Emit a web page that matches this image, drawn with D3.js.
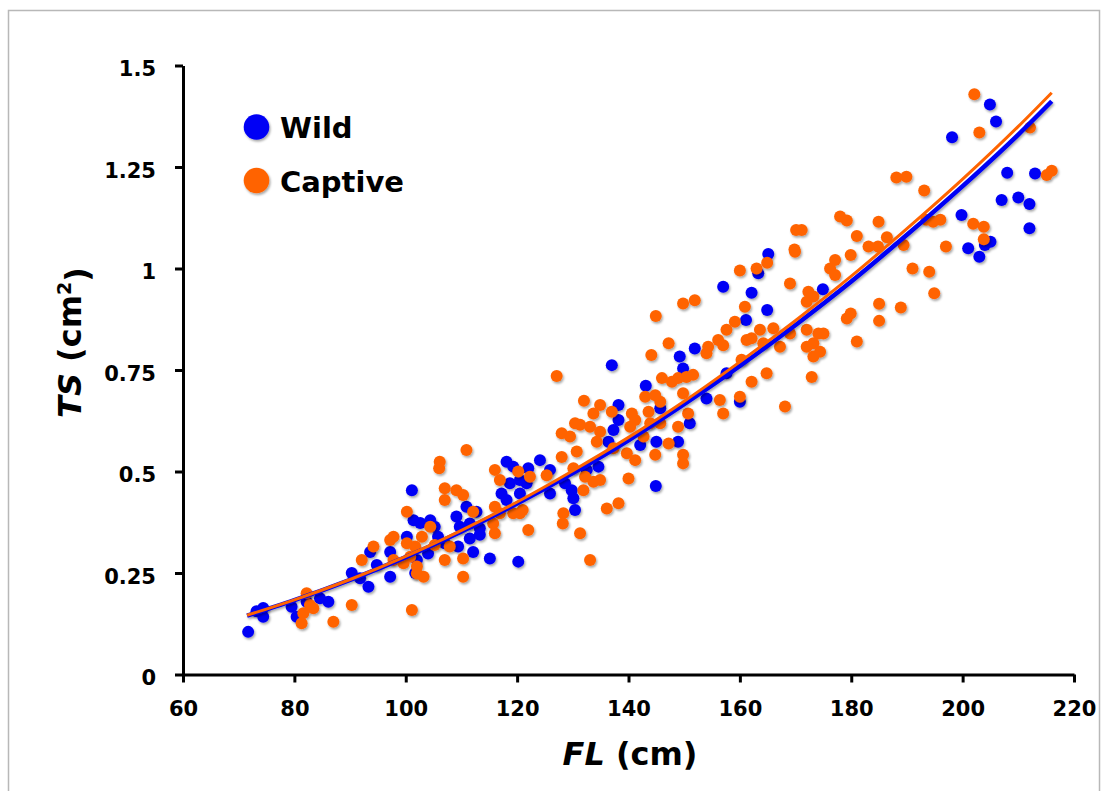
<!DOCTYPE html>
<html>
<head>
<meta charset="utf-8">
<script src="https://cdn.jsdelivr.net/npm/d3@7"></script>
<style>
  html, body { margin: 0; padding: 0; background: #fff; }
  svg { display: block; }
  text { font-family: "DejaVu Sans", sans-serif; font-weight: bold; }
</style>
</head>
<body>
<script>
// ---------- DATA ----------
const xTicks = [60, 80, 100, 120, 140, 160, 180, 200, 220];
const yTicks = [0, 0.25, 0.5, 0.75, 1, 1.25, 1.5];
const yTickLabels = ["0", "0.25", "0.5", "0.75", "1", "1.25", "1.5"];
const seriesNames = ["Wild", "Captive"];
const seriesColors = ["#0000f5", "#ff6400"];

// [FL (cm), TS (cm^2)]
const wildPoints = [
  [71.7,0.105],[73.2,0.156],[74.4,0.142],[74.4,0.164],[79.5,0.167],[80.4,0.142],[82.2,0.179],[84.6,0.188],
  [86.1,0.179],[90.3,0.25],[91.8,0.237],[93.3,0.216],[93.6,0.302],[94.8,0.27],[97.2,0.241],[97.2,0.302],
  [100.2,0.339],[101.1,0.454],[101.4,0.38],[102.6,0.373],[101.7,0.25],
  [138.2,0.664],[138.2,0.627],[137.3,0.602],[136.4,0.573],[134.6,0.512],[132.5,0.504],[128.6,0.471],
  [129.8,0.454],[130.1,0.434],[130.4,0.405],[118.1,0.524],[119.3,0.512],[122,0.508],[124.1,0.528],
  [125.9,0.504],[120.5,0.479],[121.7,0.471],[118.7,0.471],[117.2,0.446],[118.1,0.43],[120.5,0.446],
  [125.9,0.446],[109.1,0.389],[110.9,0.413],[112.7,0.401],[109.7,0.364],[111.5,0.372],[113.3,0.36],
  [111.5,0.335],[113.3,0.344],[109.4,0.315],[112.1,0.302],[104.4,0.38],[105.2,0.364],[105.8,0.339],
  [107,0.323],[102,0.282],[104,0.298],[115.1,0.286],[120.2,0.278],
  [165.1,1.036],[163.3,0.988],[157,0.955],[162.1,0.94],[164.9,0.898],[161.1,0.873],[151.9,0.803],
  [149.2,0.783],[137,0.762],[149.8,0.754],[157.6,0.742],[143.1,0.711],[154,0.68],[160,0.672],
  [145.7,0.656],[151,0.619],[145,0.573],[148.9,0.573],[142.1,0.565],[144.9,0.464],
  [208,1.236],[213,1.234],[207,1.169],[210,1.175],[212,1.159],[212,1.099],[199.8,1.132],[205,1.066],
  [204,1.058],[201,1.05],[203,1.029],[174.9,0.949],
  [204.9,1.404],[206,1.362],[198.1,1.323]
];

const captivePoints = [
  [82.2,0.2],[82.8,0.171],[81.6,0.151],[81.3,0.126],[83.4,0.163],[87,0.13],[90.3,0.171],[92.1,0.282],
  [94.2,0.315],[97.2,0.331],[97.8,0.339],[100.2,0.401],[100.2,0.323],[100.8,0.29],[101.1,0.159],
  [102,0.266],[99.6,0.274],[101.7,0.315],
  [127.1,0.735],[132,0.674],[134.9,0.664],[133.7,0.643],[137,0.647],[140.6,0.643],[130.4,0.619],
  [131.3,0.615],[133.1,0.61],[128,0.594],[129.5,0.586],[134.9,0.598],[134.3,0.573],[137.3,0.557],
  [139.7,0.545],[141.2,0.528],[130.7,0.549],[128,0.536],[110.9,0.553],[106.1,0.524],[106,0.508],
  [116,0.504],[116.9,0.479],[120.2,0.5],[122.3,0.487],[125.3,0.491],[130.1,0.508],[132.2,0.487],
  [133.7,0.475],[134.9,0.479],[131.9,0.454],[140,0.483],[136.1,0.409],[138.2,0.422],[128.3,0.397],
  [128.2,0.372],[131.3,0.348],[133.1,0.282],[107,0.459],[109.1,0.454],[110.3,0.442],[107,0.43],
  [112.1,0.401],[116,0.413],[116.9,0.397],[119.3,0.397],[120.5,0.397],[121,0.405],[115.7,0.372],
  [116,0.348],[122,0.356],[104.4,0.364],[102.9,0.339],[105.2,0.319],[107.9,0.315],[110.3,0.286],
  [107,0.282],[97.8,0.282],[102,0.249],[103.2,0.241],[110.3,0.241],
  [169.9,1.041],[160,0.995],[163,1.0],[164.9,1.014],[169,0.963],[172.3,0.943],[172,0.918],[173.2,0.931],
  [149.8,0.914],[151.9,0.922],[160.9,0.906],[144.9,0.883],[159.1,0.869],[157.6,0.849],[161.2,0.824],
  [163.6,0.849],[166,0.853],[169,0.84],[172,0.849],[173.2,0.816],[172,0.807],[167.2,0.807],[164.2,0.816],
  [162.1,0.828],[156.1,0.824],[154.3,0.807],[154,0.791],[157,0.811],[147.2,0.816],[144.1,0.787],
  [160.3,0.775],[173.2,0.783],[172.9,0.733],[164.8,0.742],[162.1,0.721],[168.1,0.66],[151.6,0.738],
  [150.4,0.733],[148.9,0.73],[147.8,0.721],[146,0.73],[149.8,0.693],[143,0.684],[144.8,0.688],
  [145.7,0.672],[156.4,0.676],[160,0.684],[157,0.643],[143.6,0.647],[141.2,0.627],[143.9,0.619],
  [145.7,0.619],[140.3,0.61],[142.7,0.586],[150.7,0.643],[148.9,0.61],[147.2,0.569],[144.8,0.541],
  [149.8,0.541],[149.8,0.52],
  [216,1.241],[215.1,1.23],[188.1,1.224],[189.9,1.226],[193.1,1.192],[201.9,1.11],[203.8,1.103],
  [203.8,1.072],[197,1.054],[178,1.128],[179.2,1.118],[184.9,1.115],[170.1,1.095],[171.1,1.095],
  [181,1.08],[186.4,1.077],[183.1,1.054],[184.8,1.054],[189.4,1.058],[193.5,1.12],[194.7,1.115],
  [196,1.12],[169.8,1.047],[179.9,1.033],[177.1,1.021],[176.2,1.0],[177.1,0.984],[191,1.0],[194,0.992],
  [194.9,0.939],[185,0.913],[188.9,0.904],[185,0.871],[179.9,0.889],[179.2,0.877],[174.1,0.84],
  [175,0.84],[181,0.82],[174.4,0.795],
  [202.1,1.429],[203,1.335],[212.1,1.347]
];

// fitted curves
const fitFL = [71.5, 80, 90, 100, 110, 120, 130, 140, 150, 160, 170, 180, 190, 200, 210, 216];
const wildFitTS = [0.145, 0.183, 0.233, 0.289, 0.352, 0.421, 0.496, 0.577, 0.666, 0.760, 0.861, 0.968, 1.083, 1.203, 1.330, 1.412];
const captiveFitTS = [0.146, 0.184, 0.234, 0.291, 0.355, 0.425, 0.502, 0.584, 0.673, 0.770, 0.872, 0.981, 1.098, 1.220, 1.350, 1.433];

// ---------- DRAW ----------
const W = 1107, H = 791;
const svg = d3.select("body").append("svg").attr("width", W).attr("height", H);

const defs = svg.append("defs");
const f = defs.append("filter").attr("id", "shadow").attr("x", "-50%").attr("y", "-50%").attr("width", "200%").attr("height", "200%");
f.append("feDropShadow").attr("dx", 1.2).attr("dy", 1.8).attr("stdDeviation", 1.1)
  .attr("flood-color", "#000").attr("flood-opacity", 0.35);

svg.append("rect").attr("width", W).attr("height", H).attr("fill", "#fff");
svg.append("rect").attr("x", 8.5).attr("y", 10.5).attr("width", 1091).attr("height", 800)
  .attr("fill", "none").attr("stroke", "#b8b8b8").attr("stroke-width", 1.5);

const x = d3.scaleLinear().domain([60, 220]).range([183, 1074]);
const y = d3.scaleLinear().domain([0, 1.5]).range([674.5, 65.5]);

// axes
const xAxis = svg.append("g").attr("transform", `translate(0,${y(0)})`)
  .call(d3.axisBottom(x).tickValues(xTicks).tickFormat(d3.format("d")).tickSize(8).tickSizeOuter(0).tickPadding(19));
const yAxis = svg.append("g").attr("transform", `translate(${x(60)},0)`)
  .call(d3.axisLeft(y).tickValues(yTicks).tickFormat((d, i) => yTickLabels[i]).tickSize(8).tickSizeOuter(0).tickPadding(19));

[xAxis, yAxis].forEach(g => {
  g.select(".domain").attr("stroke", "#000").attr("stroke-width", 3);
  g.selectAll(".tick line").attr("stroke", "#000").attr("stroke-width", 3);
  g.selectAll(".tick text").attr("fill", "#000").style("font-size", "21px")
   .style("font-family", "'DejaVu Sans', sans-serif").style("font-weight", "bold");
});
yAxis.selectAll(".tick text").attr("dy", "0.48em");

// points
const groups = [wildPoints, captivePoints];
groups.forEach((pts, i) => {
  svg.append("g").attr("filter", "url(#shadow)")
    .selectAll("circle").data(pts).join("circle")
    .attr("cx", d => x(d[0])).attr("cy", d => y(d[1])).attr("r", 6)
    .attr("fill", seriesColors[i]);
});

// fit lines
const line = d3.line().x(d => x(d[0])).y(d => y(d[1])).curve(d3.curveMonotoneX);
const wildFit = fitFL.map((v, i) => [v, wildFitTS[i]]);
const captiveFit = fitFL.map((v, i) => [v, captiveFitTS[i]]);
svg.append("path").attr("d", line(wildFit)).attr("fill", "none")
  .attr("stroke", seriesColors[0]).attr("stroke-width", 4.5).attr("filter", "url(#shadow)");
svg.append("path").attr("d", line(captiveFit)).attr("fill", "none")
  .attr("stroke", seriesColors[1]).attr("stroke-width", 3);

// legend
const legend = svg.append("g");
const legY = [127, 180.5];
seriesNames.forEach((name, i) => {
  legend.append("circle").attr("cx", 256.5).attr("cy", legY[i]).attr("r", 12.8)
    .attr("fill", seriesColors[i]).attr("filter", "url(#shadow)");
  legend.append("text").attr("x", 280).attr("y", legY[i] + 11).style("font-size", "29px")
    .attr("fill", "#000").text(name);
});

// axis titles
const xt = svg.append("text").attr("x", 630).attr("y", 765).attr("text-anchor", "middle")
  .style("font-size", "32px").attr("fill", "#000");
xt.append("tspan").style("font-style", "italic").text("FL");
xt.append("tspan").text(" (cm)");

const yt = svg.append("text").attr("transform", "translate(81,342.5) rotate(-90)")
  .attr("text-anchor", "middle").style("font-size", "32px").attr("fill", "#000");
yt.append("tspan").style("font-style", "italic").text("TS");
yt.append("tspan").text(" (cm");
yt.append("tspan").attr("dy", "-0.55em").style("font-size", "19px").text("2");
yt.append("tspan").attr("dy", "0.55em").text(")");
</script>
</body>
</html>
